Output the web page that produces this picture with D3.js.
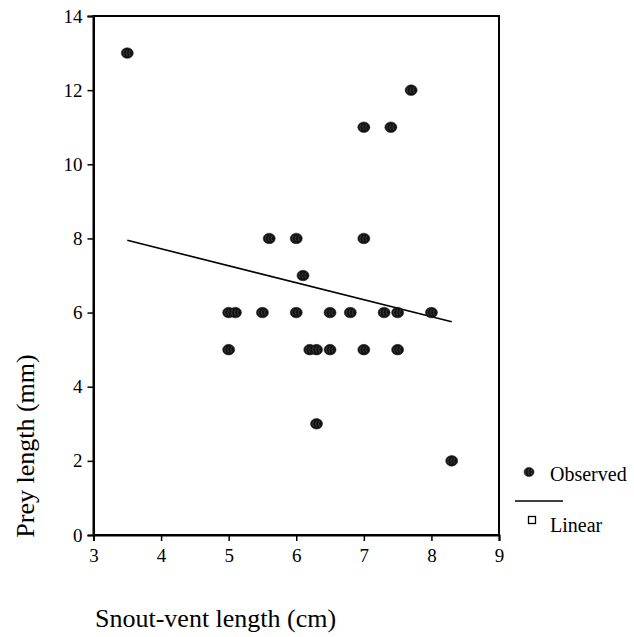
<!DOCTYPE html>
<html>
<head>
<meta charset="utf-8">
<script src="https://cdn.jsdelivr.net/npm/d3@7"></script>
<style>
  html, body { margin: 0; padding: 0; background: #fff; }
  svg { display: block; }
  svg text { font-family: "Liberation Serif", "Times New Roman", serif !important; fill: #000; }
</style>
</head>
<body>
<svg id="chart" width="634" height="637"></svg>
<script>
// Observed points: snout-vent length (cm) and prey length (mm)
const svlCm = [3.5, 7.7, 7.0, 7.4, 5.6, 6.0, 7.0, 6.1,
               5.0, 5.1, 5.5, 6.0, 6.5, 6.8, 7.3, 7.5, 8.0,
               5.0, 6.2, 6.3, 6.5, 7.0, 7.5, 6.3, 8.3];
const preyMm = [13, 12, 11, 11, 8, 8, 8, 7,
                6, 6, 6, 6, 6, 6, 6, 6, 6,
                5, 5, 5, 5, 5, 5, 3, 2];
// Linear fit line (endpoints)
const fitX = [3.5, 8.3];
const fitY = [7.95, 5.75];
// Tick labels
const xTicks = [3, 4, 5, 6, 7, 8, 9];
const yTicks = [0, 2, 4, 6, 8, 10, 12, 14];

const svg = d3.select("#chart");
const pL = 93.5, pR = 499, pT = 16, pB = 535;

const x = d3.scaleLinear().domain([3, 9]).range([pL, pR]);
const y = d3.scaleLinear().domain([0, 14]).range([pB, pT]);

// Frame
svg.append("rect")
  .attr("x", pL).attr("y", pT)
  .attr("width", pR - pL).attr("height", pB - pT)
  .attr("fill", "none").attr("stroke", "#000").attr("stroke-width", 2);

// Axes
const xAxis = svg.append("g").attr("transform", `translate(0,${pB})`)
  .call(d3.axisBottom(x).tickValues(xTicks).tickSize(6).tickPadding(8).tickFormat(d3.format("d")));
const yAxis = svg.append("g").attr("transform", `translate(${pL},0)`)
  .call(d3.axisLeft(y).tickValues(yTicks).tickSize(6).tickPadding(5).tickFormat(d3.format("d")));
[xAxis, yAxis].forEach(g => {
  g.attr("font-family", '"Liberation Serif", "Times New Roman", serif').attr("font-size", 19);
  g.select(".domain").attr("stroke", "#000").attr("stroke-width", 2);
  g.selectAll(".tick line").attr("stroke", "#000").attr("stroke-width", 1.5);
  g.selectAll(".tick text").attr("fill", "#000")
    .style("font-family", '"Liberation Serif", serif').style("font-size", "19px");
});

// Fit line
const fitData = fitX.map((d, i) => [d, fitY[i]]);
svg.append("path")
  .datum(fitData)
  .attr("fill", "none").attr("stroke", "#000").attr("stroke-width", 1.6)
  .attr("d", d3.line().x(d => x(d[0])).y(d => y(d[1])));

// Markers
const pts = svlCm.map((d, i) => ({ x: d, y: preyMm[i] }));
function marker(g, rx, ry) {
  g.append("ellipse").attr("rx", rx).attr("ry", ry)
    .attr("fill", "#121212").attr("stroke", "#222").attr("stroke-width", 0.6);
  g.append("path").attr("d", "M-3,-3 Q-5,0 -3,3 M0,-3 Q-2,0 0,3 M3,-3 Q1,0 3,3")
    .attr("fill", "none").attr("stroke", "#555").attr("stroke-width", 0.6);
}
svg.append("g").selectAll("g.pt")
  .data(pts).join("g")
  .attr("class", "pt")
  .attr("transform", d => `translate(${x(d.x)},${y(d.y)})`)
  .each(function () { marker(d3.select(this), 6, 5.3); });

// Axis titles
svg.append("text")
  .attr("x", 95).attr("y", 627)
  .style("font-size", "26px")
  .text("Snout-vent length (cm)");
svg.append("text")
  .attr("transform", "translate(34,446) rotate(-90)")
  .attr("text-anchor", "middle")
  .style("font-size", "26px")
  .text("Prey length (mm)");

// Legend
const lg = svg.append("g");
const m = lg.append("g").attr("transform", "translate(529,472)");
marker(m, 5, 4.5);
lg.append("text").attr("x", 550).attr("y", 481).style("font-size", "20px").text("Observed");
lg.append("line").attr("x1", 515).attr("x2", 563).attr("y1", 501).attr("y2", 501)
  .attr("stroke", "#000").attr("stroke-width", 1.6);
lg.append("rect").attr("x", 528.5).attr("y", 516.5).attr("width", 7).attr("height", 7)
  .attr("fill", "none").attr("stroke", "#000").attr("stroke-width", 1.3);
lg.append("text").attr("x", 550).attr("y", 532).style("font-size", "20px").text("Linear");
</script>
</body>
</html>
